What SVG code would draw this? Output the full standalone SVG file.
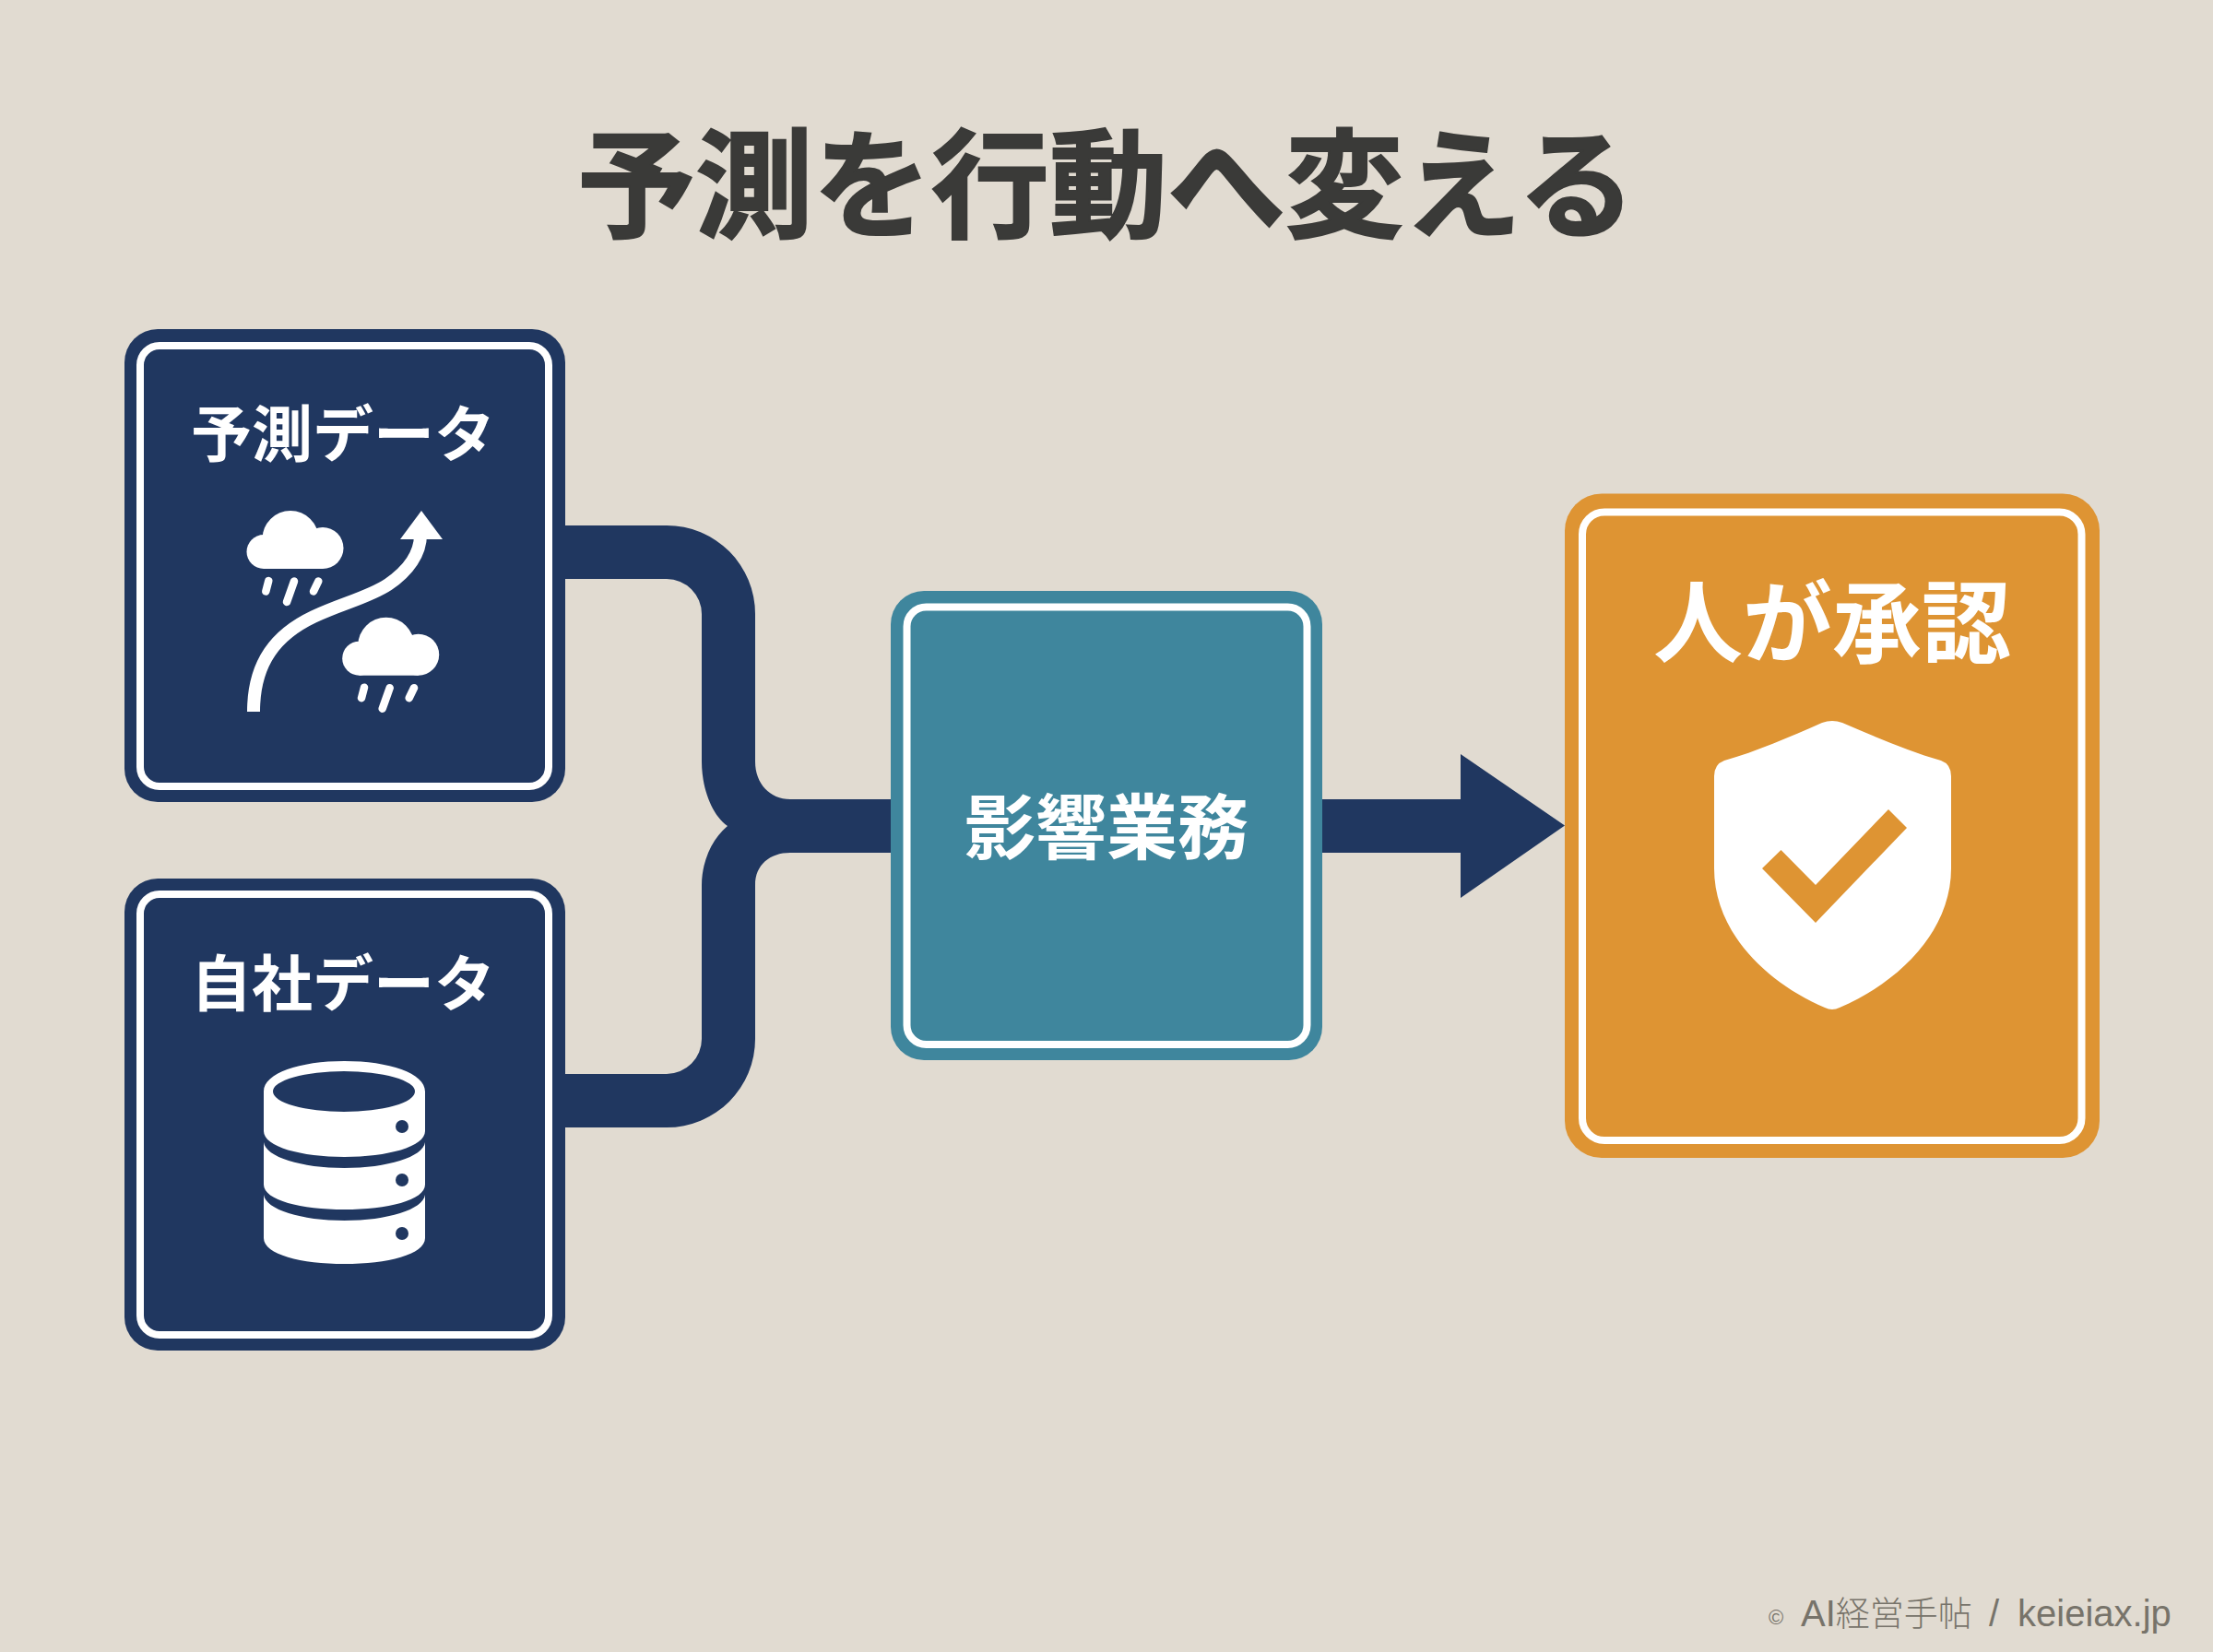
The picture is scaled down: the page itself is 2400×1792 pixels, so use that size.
<svg xmlns="http://www.w3.org/2000/svg" xmlns:xlink="http://www.w3.org/1999/xlink" width="2400" height="1792" viewBox="0 0 2400 1792">
<style>
.t{font-family:"Noto Sans CJK JP","Noto Sans",sans-serif;font-weight:700;fill:#fff;text-anchor:middle}
.ring{fill:none;stroke:#fff;stroke-width:8}
.navy{fill:#203760}
.wh{fill:#fff}
.rain{stroke:#fff;stroke-width:8.500;stroke-linecap:round;fill:none}
</style>
<defs>
<g id="cloud">
<circle cx="286" cy="598.500" r="18.500" class="wh"/>
<circle cx="315" cy="584.500" r="30.500" class="wh"/>
<circle cx="350" cy="594.500" r="22.500" class="wh"/>
<rect x="286" y="590" width="64" height="27" class="wh"/>
<path class="rain" d="M291.300,630 L288.300,641.500 M319,630.500 L311,653 M345.300,630.500 L340,641.500"/>
</g>
</defs>
<rect width="2400" height="1792" fill="#e1dbd1"/>
<text id="title" x="1200" y="248" class="t" font-size="128" style="fill:#3a3a38;stroke:#3a3a38;stroke-width:2">予測を行動へ変える</text>
<g id="connectors">
<path class="navy" d="M600,570 L723,570 A96,96 0 0 1 819,666 L819,826 C819,850 835,867 857,867 L980,867 L980,925 L857,925 C835,925 819,938 819,960 L819,1127 A96,96 0 0 1 723,1223 L600,1223 L600,1165 L723,1165 A38,38 0 0 0 761,1127 L761,960 C761,935 772,910 789,896 C772,884 761,855 761,826 L761,666 A38,38 0 0 0 723,628 L600,628 Z"/>
<path class="navy" d="M1420,867 L1584,867 L1584,818 L1697,895.500 L1584,974 L1584,925 L1420,925 Z"/>
</g>
<g id="node-forecast">
<rect x="135" y="357" width="478" height="513" rx="36" class="navy"/>
<rect x="152" y="375" width="443" height="478" rx="21" class="ring"/>
<text x="372" y="495" class="t" font-size="66">予測データ</text>
<path d="M275,772 C275,718 300,688 340,669 C372,654 400,648 421,634 C443,619 456,600 456,580" fill="none" stroke="#fff" stroke-width="14"/>
<polygon class="wh" points="457,554 480,585 434,585"/>
<use xlink:href="#cloud" href="#cloud"/>
<use xlink:href="#cloud" href="#cloud" transform="translate(103.700,115.700)"/>
</g>
<g id="node-own">
<rect x="135" y="953" width="478" height="512" rx="36" class="navy"/>
<rect x="152" y="970" width="443" height="478" rx="21" class="ring"/>
<text x="372" y="1091" class="t" font-size="66">自社データ</text>
<path class="wh" fill-rule="evenodd" d="M286,1184 C286,1164 325,1151 373.500,1151 C422,1151 461,1164 461,1184 L461,1227 C461,1244 420,1255 373.500,1255 C327,1255 286,1244 286,1227 Z M296,1184 A77,22 0 0 0 450,1184 A77,22 0 0 0 296,1184 Z"/>
<path class="wh" d="M286,1239 C288,1255 327,1267 373.500,1267 C420,1267 459,1255 461,1239 L461,1285 C461,1302 420,1312 373.500,1312 C327,1312 286,1302 286,1285 Z"/>
<path class="wh" d="M286,1296 C288,1312 327,1324 373.500,1324 C420,1324 459,1312 461,1296 L461,1343 C461,1361 420,1371 373.500,1371 C327,1371 286,1361 286,1343 Z"/>
<circle cx="436" cy="1222" r="7" class="navy"/>
<circle cx="436" cy="1280" r="7" class="navy"/>
<circle cx="436" cy="1338" r="7" class="navy"/>
</g>
<g id="node-impact">
<rect x="966" y="641" width="468" height="509" rx="36" fill="#3f869d"/>
<rect x="983.500" y="658.500" width="434" height="474.500" rx="21" class="ring"/>
<text x="1200" y="926" class="t" font-size="77">影響業務</text>
</g>
<g id="node-approve">
<rect x="1697" y="535.500" width="580" height="720.500" rx="40" fill="#de9433"/>
<rect x="1716" y="555.500" width="541.500" height="681.500" rx="24" class="ring"/>
<text x="1987" y="711" class="t" font-size="97">人が承認</text>
<path class="wh" d="M1976,784 Q1987,780 1998,784 C2035,800 2070,815 2105,825 Q2116,829 2116,842 L2116,942 C2116,1010 2060,1065 1995,1093 Q1987,1097 1979,1093 C1914,1065 1859,1010 1859,942 L1859,842 Q1859,829 1870,825 C1905,815 1940,800 1976,784 Z"/>
<polygon fill="#de9433" points="1911,942 1931.500,922 1969,960 2048,878 2068,898 1969,1001"/>
</g>
<g id="footer" font-family="'Liberation Sans','Noto Sans CJK JP',sans-serif" fill="#77736a">
<text x="1918" y="1762" font-size="22">©</text>
<text y="1764" font-size="40"><tspan x="1953">AI</tspan><tspan font-size="37" font-family="'Noto Sans CJK JP',sans-serif" font-weight="300">経営手帖</tspan><tspan x="2146" xml:space="preserve"> / </tspan><tspan x="2188">keieiax.jp</tspan></text>
</g>
</svg>
